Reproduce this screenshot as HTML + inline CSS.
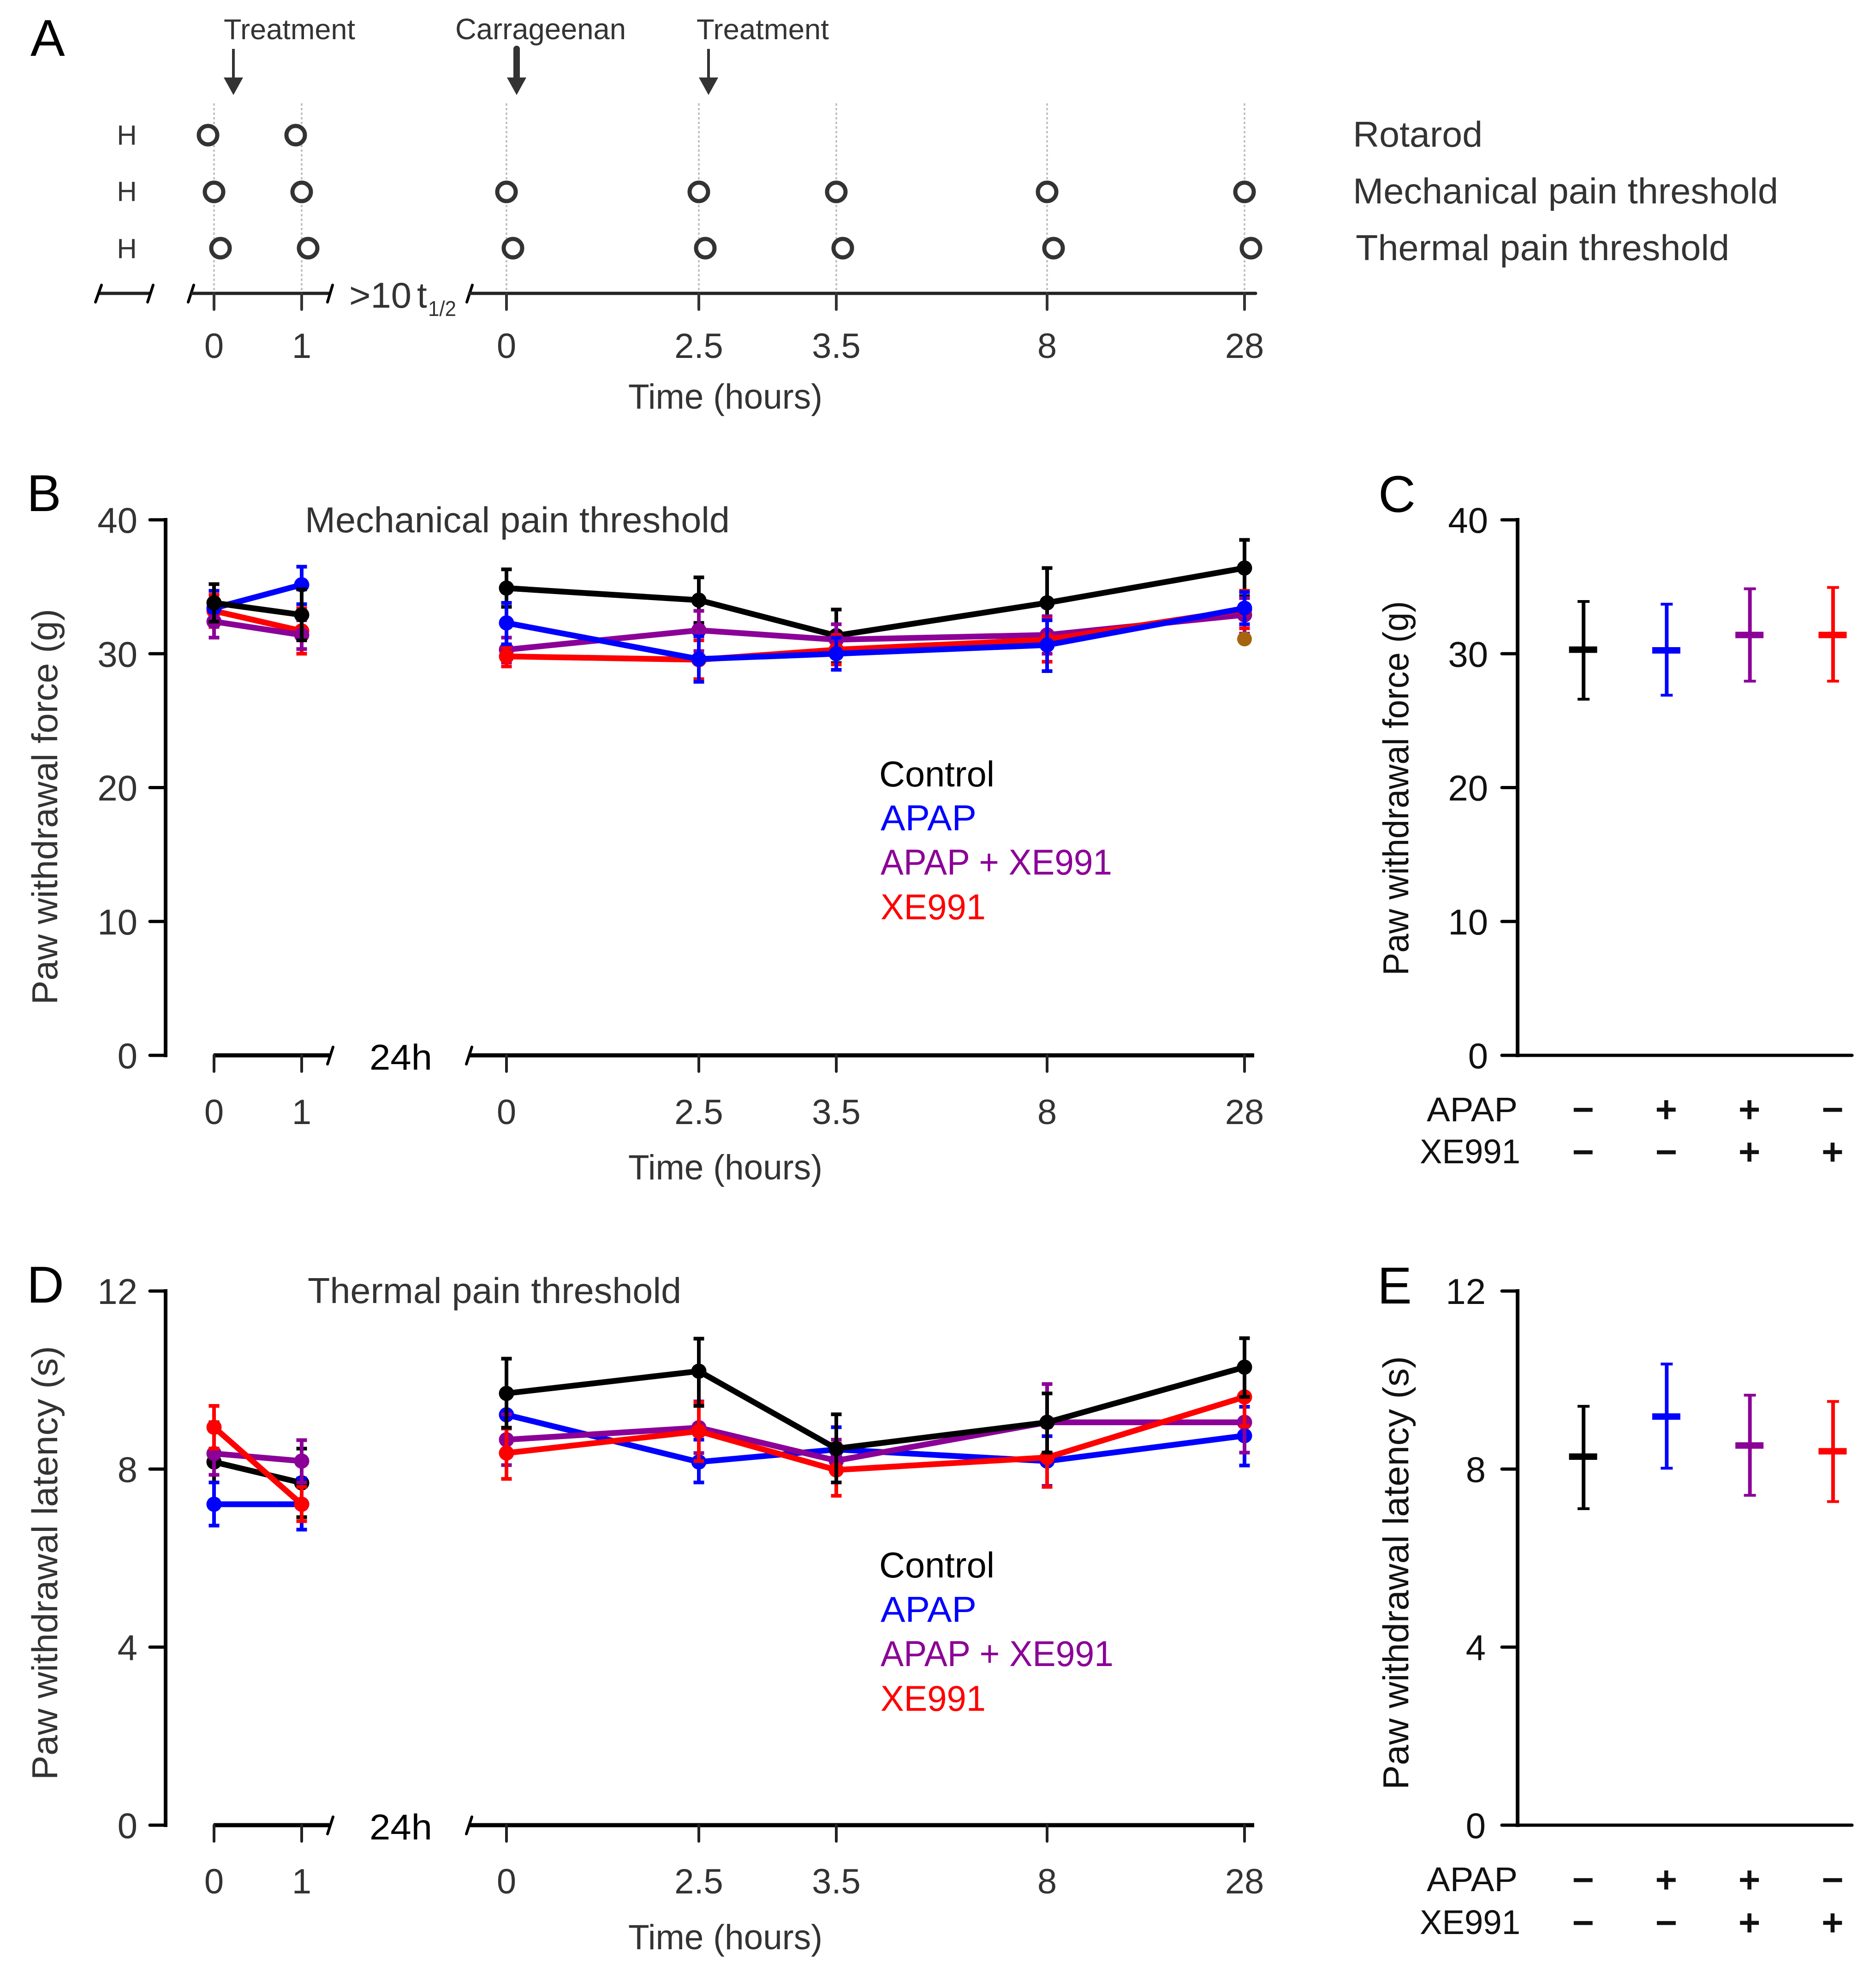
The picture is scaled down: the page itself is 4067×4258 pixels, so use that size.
<!DOCTYPE html>
<html lang="en">
<head>
<meta charset="utf-8">
<title>Paw withdrawal pain thresholds</title>
<style>
html,body{margin:0;padding:0;background:#fff;}
svg{display:block;}
text{font-family:"Liberation Sans",Arial,sans-serif;}
</style>
</head>
<body>
<svg id="fig" xmlns="http://www.w3.org/2000/svg" width="4067" height="4258" viewBox="0 0 4067 4258">
<rect x="0" y="0" width="4067" height="4258" fill="#fff"/>

<g font-size="112" fill="#000">
<text x="66" y="121">A</text>
<text x="58" y="1108">B</text>
<text x="2988" y="1110">C</text>
<text x="58" y="2824">D</text>
<text x="2986" y="2826">E</text>
</g>

<g fill="#333">
<text x="485" y="85" font-size="62" textLength="285" lengthAdjust="spacingAndGlyphs">Treatment</text>
<text x="987" y="85" font-size="64" textLength="370" lengthAdjust="spacingAndGlyphs">Carrageenan</text>
<text x="1510" y="85" font-size="62" textLength="287" lengthAdjust="spacingAndGlyphs">Treatment</text>
<text x="2933" y="318" font-size="78" textLength="281" lengthAdjust="spacingAndGlyphs">Rotarod</text>
<text x="2933" y="441" font-size="78" textLength="922" lengthAdjust="spacingAndGlyphs">Mechanical pain threshold</text>
<text x="2939" y="564" font-size="78" textLength="810" lengthAdjust="spacingAndGlyphs">Thermal pain threshold</text>
<text x="757" y="667" font-size="78" textLength="135" lengthAdjust="spacingAndGlyphs">&gt;10</text>
<text x="904" y="667" font-size="78">t</text>
<text x="928" y="685" font-size="46" textLength="61" lengthAdjust="spacingAndGlyphs">1/2</text>
<text x="1362" y="886" font-size="76" textLength="421" lengthAdjust="spacingAndGlyphs">Time (hours)</text>
</g>

<g>
<text x="661" y="1154" font-size="78" fill="#333" textLength="921" lengthAdjust="spacingAndGlyphs">Mechanical pain threshold</text>
<text transform="translate(124,2178) rotate(-90)" font-size="78" fill="#333" textLength="858" lengthAdjust="spacingAndGlyphs">Paw withdrawal force (g)</text>
<text x="801" y="2319" font-size="78" fill="#000" textLength="136" lengthAdjust="spacingAndGlyphs">24h</text>
<text x="1362" y="2557" font-size="76" fill="#333" textLength="421" lengthAdjust="spacingAndGlyphs">Time (hours)</text>
<text x="1906" y="1705" font-size="78" fill="#000" textLength="250" lengthAdjust="spacingAndGlyphs">Control</text>
<text x="1909" y="1800" font-size="78" fill="#0000ff" textLength="208" lengthAdjust="spacingAndGlyphs">APAP</text>
<text x="1909" y="1896" font-size="78" fill="#8b0097" textLength="502" lengthAdjust="spacingAndGlyphs">APAP + XE991</text>
<text x="1909" y="1993" font-size="78" fill="#ff0000" textLength="228" lengthAdjust="spacingAndGlyphs">XE991</text>
</g>

<g>
<text transform="translate(3053,2115) rotate(-90)" font-size="78" fill="#111" textLength="812" lengthAdjust="spacingAndGlyphs">Paw withdrawal force (g)</text>
<text x="3093" y="2431" font-size="74" fill="#111" textLength="197" lengthAdjust="spacingAndGlyphs">APAP</text>
<text x="3078" y="2522" font-size="74" fill="#111" textLength="218" lengthAdjust="spacingAndGlyphs">XE991</text>
</g>

<g>
<text x="667" y="2825" font-size="78" fill="#333" textLength="810" lengthAdjust="spacingAndGlyphs">Thermal pain threshold</text>
<text transform="translate(124,3859) rotate(-90)" font-size="78" fill="#333" textLength="941" lengthAdjust="spacingAndGlyphs">Paw withdrawal latency (s)</text>
<text x="801" y="3988" font-size="78" fill="#000" textLength="136" lengthAdjust="spacingAndGlyphs">24h</text>
<text x="1362" y="4226" font-size="76" fill="#333" textLength="421" lengthAdjust="spacingAndGlyphs">Time (hours)</text>
<text x="1906" y="3420" font-size="78" fill="#000" textLength="250" lengthAdjust="spacingAndGlyphs">Control</text>
<text x="1909" y="3516" font-size="78" fill="#0000ff" textLength="208" lengthAdjust="spacingAndGlyphs">APAP</text>
<text x="1909" y="3612" font-size="78" fill="#8b0097" textLength="505" lengthAdjust="spacingAndGlyphs">APAP + XE991</text>
<text x="1909" y="3709" font-size="78" fill="#ff0000" textLength="228" lengthAdjust="spacingAndGlyphs">XE991</text>
</g>

<g>
<text transform="translate(3053,3880) rotate(-90)" font-size="78" fill="#111" textLength="940" lengthAdjust="spacingAndGlyphs">Paw withdrawal latency (s)</text>
<text x="3093" y="4100" font-size="74" fill="#111" textLength="197" lengthAdjust="spacingAndGlyphs">APAP</text>
<text x="3078" y="4193" font-size="74" fill="#111" textLength="218" lengthAdjust="spacingAndGlyphs">XE991</text>
</g>
</svg>

<script>
/* ---------- shared categories ---------- */
const hours = [0, 1, 0, 2.5, 3.5, 8, 28];
const hourLabels = ['0', '1', '0', '2.5', '3.5', '8', '28'];
const summaryGroups = ['control', 'apap', 'apap-xe991', 'xe991'];
const apapSigns = ['\u2212', '+', '+', '\u2212'];
const xe991Signs = ['\u2212', '\u2212', '+', '+'];
const mechTicks = [0, 10, 20, 30, 40];
const thermTicks = [0, 4, 8, 12];

/* ---------- schedule (panel A) : which time slots each row is measured at ---------- */
const rotarodSlots = [0, 1];
const mechanicalSlots = [0, 1, 2, 3, 4, 5, 6];
const thermalSlots = [0, 1, 2, 3, 4, 5, 6];

/* ---------- panel B : mechanical threshold (g) ---------- */
const mechControlMean = [33.8, 32.9, 34.9, 34.0, 31.35, 33.8, 36.4];
const mechControlHigh = [35.2, 34.8, 36.3, 35.7, 33.3, 36.4, 38.5];
const mechControlLow = [32.4, 31.0, 33.5, 32.3, 29.3, 31.2, 34.3];
const mechApapMean = [33.4, 35.15, 32.3, 29.6, 30.0, 30.65, 33.4];
const mechApapHigh = [34.7, 36.5, 33.8, 31.3, 31.2, 32.5, 34.6];
const mechApapLow = [32.1, 33.7, 30.7, 27.9, 28.8, 28.7, 32.2];
const mechComboMean = [32.4, 31.4, 30.3, 31.75, 31.05, 31.4, 32.9];
const mechComboHigh = [33.6, 32.5, 31.2, 33.2, 32.2, 32.8, 34.15];
const mechComboLow = [31.2, 30.35, 29.35, 30.2, 29.9, 30.0, 31.5];
const mechXeMean = [33.2, 31.7, 29.8, 29.55, 30.3, 31.05, 33.3];
const mechXeHigh = [34.4, 33.4, 30.5, 31.0, 31.4, 32.6, 34.7];
const mechXeLow = [32.0, 30.0, 29.05, 28.1, 29.2, 29.4, 31.9];
const mechStrayPoint = [31.1];

/* ---------- panel D : thermal latency (s) ---------- */
const thermControlMean = [8.16, 7.69, 9.7, 10.2, 8.46, 9.05, 10.29];
const thermControlHigh = [9.05, 8.46, 10.48, 10.93, 9.23, 9.7, 10.94];
const thermControlLow = [7.3, 6.92, 8.93, 9.42, 7.7, 8.37, 9.62];
const thermApapMean = [7.21, 7.21, 9.22, 8.16, 8.44, 8.18, 8.75];
const thermApapHigh = [7.7, 7.79, 9.7, 8.66, 8.94, 8.74, 9.4];
const thermApapLow = [6.73, 6.64, 8.7, 7.7, 7.95, 7.62, 8.08];
const thermComboMean = [8.35, 8.18, 8.66, 8.93, 8.19, 9.05, 9.05];
const thermComboHigh = [8.85, 8.65, 9.23, 9.52, 8.66, 9.91, 9.7];
const thermComboLow = [7.87, 7.7, 8.09, 8.36, 7.7, 8.2, 8.37];
const thermXeMean = [8.94, 7.21, 8.36, 8.85, 7.98, 8.26, 9.62];
const thermXeHigh = [9.42, 7.6, 8.91, 9.5, 8.57, 8.95, 10.28];
const thermXeLow = [8.46, 6.83, 7.78, 8.18, 7.4, 7.6, 8.96];

/* ---------- panel C summary (g) ---------- */
const mechSummaryMean = [30.3, 30.25, 31.4, 31.4];
const mechSummaryHigh = [33.9, 33.7, 34.85, 34.95];
const mechSummaryLow = [26.6, 26.9, 27.95, 27.95];

/* ---------- panel E summary (s) ---------- */
const thermSummaryMean = [8.28, 9.18, 8.53, 8.40];
const thermSummaryHigh = [9.41, 10.36, 9.66, 9.52];
const thermSummaryLow = [7.11, 8.02, 7.41, 7.27];

/* ---------- colours ---------- */
const BLACK = '#000000', BLUE = '#0000ff', PURPLE = '#8b0097', RED = '#ff0000', INK = '#333333';
const summaryColors = [BLACK, BLUE, PURPLE, RED];

/* ---------- scales ---------- */
function piecewise(domain, range) {
  return function (v) {
    let i = 0;
    while (i < domain.length - 2 && v > domain[i + 1]) i++;
    return range[i] + (v - domain[i]) / (domain[i + 1] - domain[i]) * (range[i + 1] - range[i]);
  };
}
const preAxis = piecewise([0, 1], [464, 654]);
const postAxis = piecewise([0, 2.5, 3.5, 8, 28], [1098, 1515, 1813, 2270, 2698]);
function slotX(i) { return i < 2 ? preAxis(hours[i]) : postAxis(hours[i]); }
function mechY(v) { return 2288 - v * 29.025; }
function thermY(v) { return 3957 - v * 96.5; }
function summaryX(i) { return 3432 + i * 180.3; }

/* ---------- drawing ---------- */
const fig = document.getElementById('fig');
const NS = 'http://www.w3.org/2000/svg';
function add(parent, tag, attrs, text) {
  const el = document.createElementNS(NS, tag);
  for (const k in attrs) el.setAttribute(k, attrs[k]);
  if (text !== undefined) el.textContent = text;
  parent.appendChild(el);
  return el;
}
function seg(parent, x1, y1, x2, y2, color, w, cap) {
  return add(parent, 'line', {x1: x1, y1: y1, x2: x2, y2: y2, stroke: color, 'stroke-width': w, 'stroke-linecap': cap || 'butt'});
}

function drawBreak(parent, xTop, yTop, xBot, yBot) {
  const slash = seg(parent, xTop, yTop, xBot, yBot, BLACK, 6, 'round');
  
  
}

function drawTimeAxis(name, base, labelBaseline, color, thick) {
  const g = add(fig, 'g', {});
  
  
  const pre = seg(g, 463, base, 714, base, color, thick);
  
  
  const post = seg(g, 1018, base, 2719, base, color, thick);
  
  
  drawBreak(g, 722, base - 18, 710, base + 19);
  drawBreak(g, 1023, base - 18, 1011, base + 19);
  hourLabels.forEach(function (label, i) {
    const x = slotX(i);
    const tick = seg(g, x, base, x, base + 35, '#222', 6, 'round');
    
    
    const t = add(g, 'text', {x: x, y: labelBaseline, 'font-size': 76, 'text-anchor': 'middle', fill: INK}, label);
    
    
  });
}

function drawYAxis(name, xAxis, ticks, scale, labelRight, color) {
  const g = add(fig, 'g', {});
  
  
  const top = scale(ticks[ticks.length - 1]);
  const bottom = scale(ticks[0]);
  const spine = seg(g, xAxis, top - 4, xAxis, bottom + 4, BLACK, 8);
  
  
  ticks.forEach(function (v) {
    const y = scale(v);
    const tick = seg(g, xAxis - 34, y, xAxis, y, BLACK, 7, 'round');
    
    
    const t = add(g, 'text', {x: labelRight, y: y + 28, 'font-size': 78, 'text-anchor': 'end', fill: color}, String(v));
    
    
  });
}

function drawSeries(parent, name, color, mean, high, low, scale, first, last) {
  const g = add(parent, 'g', {});
  
  
  let pts = '';
  for (let i = first; i <= last; i++) pts += slotX(i) + ',' + scale(mean[i]) + ' ';
  const line = add(g, 'polyline', {points: pts.trim(), fill: 'none', stroke: color, 'stroke-width': 12.5, 'stroke-linejoin': 'round'});
  
  
  for (let i = first; i <= last; i++) {
    const x = slotX(i);
    const stem = seg(g, x, scale(high[i]), x, scale(low[i]), color, 8);
    
    
    const capTop = seg(g, x - 11.5, scale(high[i]), x + 11.5, scale(high[i]), color, 8);
    
    
    const capBottom = seg(g, x - 11.5, scale(low[i]), x + 11.5, scale(low[i]), color, 8);
    
    
    const dot = add(g, 'circle', {cx: x, cy: scale(mean[i]), r: 16.5, fill: color});
    
    
  }
}

function drawSummary(name, mean, high, low, scale, apapY, xeY) {
  const g = add(fig, 'g', {});
  
  
  const base = add(g, 'line', {x1: 3256, y1: scale(0), x2: 4015, y2: scale(0), stroke: BLACK, 'stroke-width': 7, 'stroke-linecap': 'round'});
  
  
  summaryGroups.forEach(function (group, i) {
    const x = summaryX(i);
    const c = summaryColors[i];
    const stem = seg(g, x + 1, scale(high[i]), x + 1, scale(low[i]), c, 8);
    
    
    const capTop = seg(g, x - 12, scale(high[i]), x + 14, scale(high[i]), c, 6);
    
    
    const capBottom = seg(g, x - 12, scale(low[i]), x + 14, scale(low[i]), c, 6);
    
    
    const bar = seg(g, x - 30.5, scale(mean[i]), x + 30.5, scale(mean[i]), c, 14);
    
    
    const s1 = add(g, 'text', {x: x, y: apapY, 'font-size': 78, 'text-anchor': 'middle', fill: '#111', stroke: '#111', 'stroke-width': 3}, apapSigns[i]);
    
    
    const s2 = add(g, 'text', {x: x, y: xeY, 'font-size': 78, 'text-anchor': 'middle', fill: '#111', stroke: '#111', 'stroke-width': 3}, xe991Signs[i]);
    
    
  });
}

/* ---------- panel A timeline ---------- */
(function () {
  const g = add(fig, 'g', {});
  
  
  hourLabels.forEach(function (label, i) {
    const x = slotX(i);
    const guide = add(g, 'line', {x1: x, y1: 224, x2: x, y2: 636, stroke: '#bbbbbb', 'stroke-width': 3.5, 'stroke-dasharray': '5 5'});
    
    
  });
  const baseline = seg(g, 214, 636, 326, 636, '#222', 7);
  
  
  drawBreak(g, 220, 618, 207, 655);
  drawBreak(g, 332, 618, 320, 655);
  drawBreak(g, 420, 618, 408, 655);
  const hold = seg(g, 414, 636, 714, 636, '#222', 7);
  
  
  drawBreak(g, 721, 618, 710, 655);
  drawBreak(g, 1024, 618, 1012, 655);
  const post = seg(g, 1018, 636, 2722, 636, '#222', 7, 'round');
  
  
  hourLabels.forEach(function (label, i) {
    const x = slotX(i);
    const tick = seg(g, x, 636, x, 671, '#333', 6, 'round');
    
    
    const t = add(g, 'text', {x: x, y: 776, 'font-size': 76, 'text-anchor': 'middle', fill: INK}, label);
    
    
  });
  const rows = [
    {slots: rotarodSlots, y: 293, shift: -13, base: 314, name: 'rotarod'},
    {slots: mechanicalSlots, y: 416, shift: 0, base: 436, name: 'mechanical'},
    {slots: thermalSlots, y: 538, shift: 14, base: 560, name: 'thermal'}
  ];
  rows.forEach(function (row) {
    const h = add(g, 'text', {x: 275, y: row.base, 'font-size': 60, 'text-anchor': 'middle', fill: INK}, 'H');
    
    
    row.slots.forEach(function (s) {
      const o = add(g, 'circle', {cx: slotX(s) + row.shift, cy: row.y, r: 20, fill: '#fff', stroke: INK, 'stroke-width': 9});
      
      
    });
  });
  [[506, 6], [1120, 14], [1536, 6]].forEach(function (a) {
    const shaft = seg(g, a[0], 106, a[0], 172, INK, a[1], a[1] > 10 ? 'round' : 'butt');
    
    
    const head = add(g, 'polygon', {points: (a[0] - 21) + ',168 ' + (a[0] + 21) + ',168 ' + a[0] + ',206', fill: INK});
    
    
  });
})();

/* ---------- panel B ---------- */
drawYAxis('panel-b-y-axis', 359, mechTicks, mechY, 298, INK);
drawTimeAxis('panel-b-x-axis', 2288, 2437, BLACK, 9);
(function () {
  const g = add(fig, 'g', {});
  
  
  drawSeries(g, 'xe991-before-gap', RED, mechXeMean, mechXeHigh, mechXeLow, mechY, 0, 1);
  drawSeries(g, 'apap-before-gap', BLUE, mechApapMean, mechApapHigh, mechApapLow, mechY, 0, 1);
  drawSeries(g, 'apap-xe991-before-gap', PURPLE, mechComboMean, mechComboHigh, mechComboLow, mechY, 0, 1);
  drawSeries(g, 'control-before-gap', BLACK, mechControlMean, mechControlHigh, mechControlLow, mechY, 0, 1);
  drawSeries(g, 'control-after-gap', BLACK, mechControlMean, mechControlHigh, mechControlLow, mechY, 2, 6);
  drawSeries(g, 'apap-xe991-after-gap', PURPLE, mechComboMean, mechComboHigh, mechComboLow, mechY, 2, 6);
  drawSeries(g, 'xe991-after-gap', RED, mechXeMean, mechXeHigh, mechXeLow, mechY, 2, 6);
  drawSeries(g, 'apap-after-gap', BLUE, mechApapMean, mechApapHigh, mechApapLow, mechY, 2, 6);
  const stray = add(g, 'circle', {cx: slotX(6), cy: mechY(mechStrayPoint[0]), r: 16, fill: '#a5650f'});
  
  
})();

/* ---------- panel C ---------- */
drawYAxis('panel-c-y-axis', 3290, mechTicks, mechY, 3226, '#111');
drawSummary('panel-c-plot', mechSummaryMean, mechSummaryHigh, mechSummaryLow, mechY, 2432, 2524);

/* ---------- panel D ---------- */
drawYAxis('panel-d-y-axis', 359, thermTicks, thermY, 298, INK);
drawTimeAxis('panel-d-x-axis', 3957, 4105, BLACK, 9);
(function () {
  const g = add(fig, 'g', {});
  
  
  drawSeries(g, 'control-before-gap', BLACK, thermControlMean, thermControlHigh, thermControlLow, thermY, 0, 1);
  drawSeries(g, 'apap-before-gap', BLUE, thermApapMean, thermApapHigh, thermApapLow, thermY, 0, 1);
  drawSeries(g, 'apap-xe991-before-gap', PURPLE, thermComboMean, thermComboHigh, thermComboLow, thermY, 0, 1);
  drawSeries(g, 'xe991-before-gap', RED, thermXeMean, thermXeHigh, thermXeLow, thermY, 0, 1);
  drawSeries(g, 'apap-after-gap', BLUE, thermApapMean, thermApapHigh, thermApapLow, thermY, 2, 6);
  drawSeries(g, 'apap-xe991-after-gap', PURPLE, thermComboMean, thermComboHigh, thermComboLow, thermY, 2, 6);
  drawSeries(g, 'xe991-after-gap', RED, thermXeMean, thermXeHigh, thermXeLow, thermY, 2, 6);
  drawSeries(g, 'control-after-gap', BLACK, thermControlMean, thermControlHigh, thermControlLow, thermY, 2, 6);
})();

/* ---------- panel E ---------- */
drawYAxis('panel-e-y-axis', 3290, thermTicks, thermY, 3221, '#111');
drawSummary('panel-e-plot', thermSummaryMean, thermSummaryHigh, thermSummaryLow, thermY, 4102, 4195);
</script>
</body>
</html>
